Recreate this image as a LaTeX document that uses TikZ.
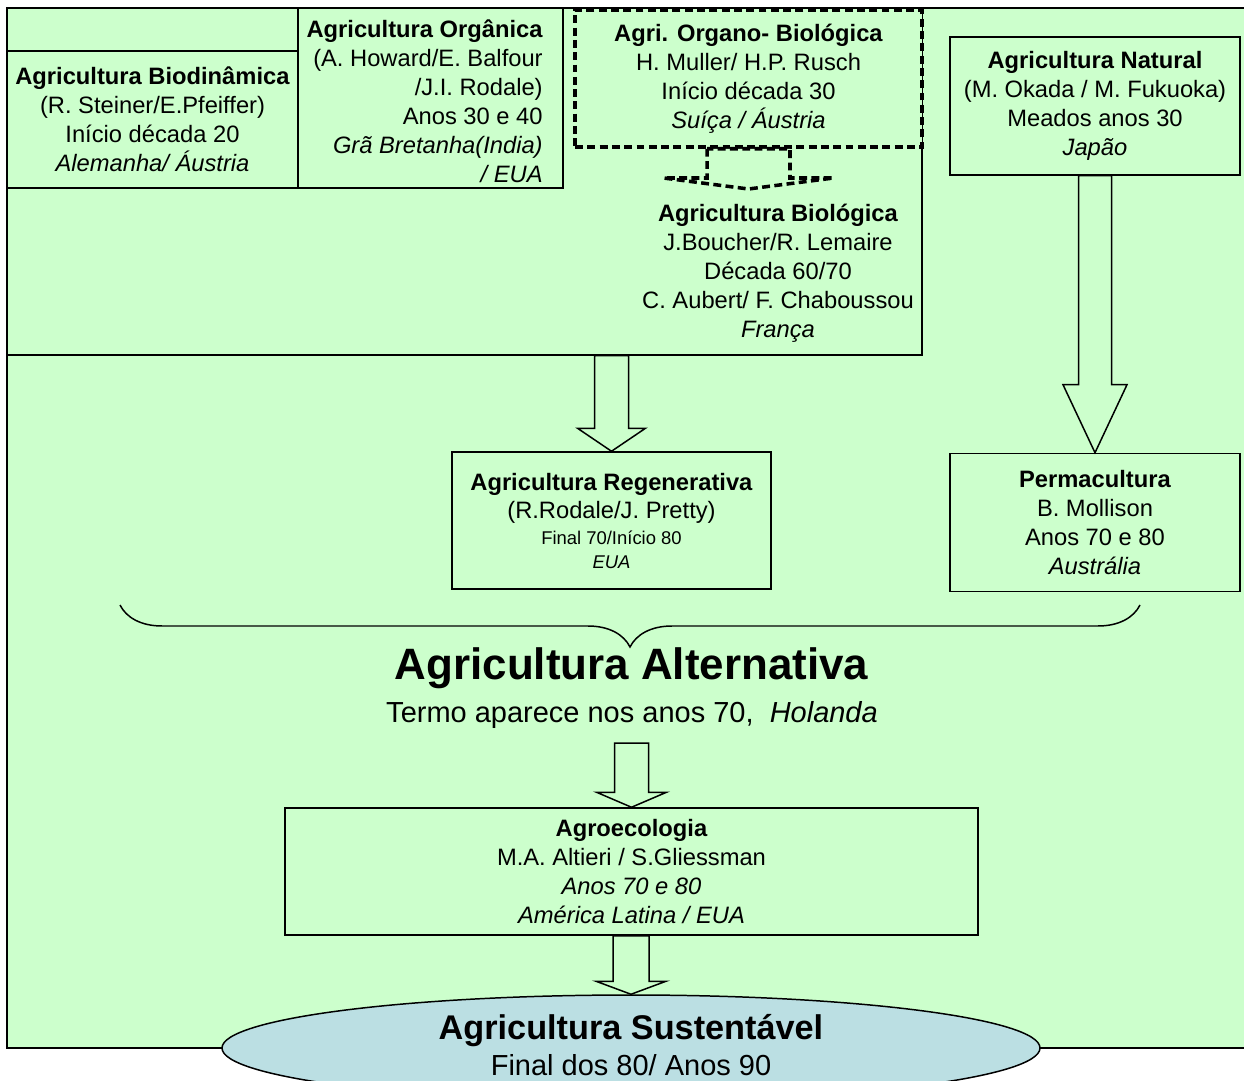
\documentclass[tikz,border=0pt]{standalone}
\usepackage{fontspec}
\setmainfont{Liberation Sans}
\usetikzlibrary{arrows.meta,positioning,shapes.geometric,calc,decorations.pathreplacing}

\definecolor{agreen}{HTML}{CCFFCC}
\definecolor{ablue}{HTML}{BBDFE3}
\newcommand{\px}{0.02cm}
\newcommand{\boxfont}{\fontsize{13.5}{16.5}\selectfont}
% hollow block arrow: [style] start, tip, shaft half width, head half width, head length
\newcommand{\blockarrow}[6][]{%
  \draw[barrow,#1] let \p1=(#2), \p2=(#3) in
    (\x2-#4,\y1) -- (\x2-#4,\y2+#6) -- (\x2-#5,\y2+#6) -- (\x2,\y2)
    -- (\x2+#5,\y2+#6) -- (\x2+#4,\y2+#6) -- (\x2+#4,\y1) -- cycle;}

\begin{document}
\begin{tikzpicture}[x=\px, y=-\px,
  box/.style={draw, fill=agreen, line width=0.85pt, inner sep=0pt, align=center, font=\boxfont},
  txt/.style={inner sep=0pt, align=center, font=\boxfont},
  dbox/.style={box, line width=2pt, dash pattern=on 4.5pt off 2.5pt},
  barrow/.style={draw, fill=agreen, line width=0.85pt, line join=miter},
  dline/.style={line width=2pt, dash pattern=on 4.5pt off 2.5pt}]
  \useasboundingbox (0,0) rectangle (1244,1081);
  \clip (0,0) rectangle (1244,1081);
  \draw[fill=agreen, line width=0.85pt] (7,8) rectangle (1252,1048);

  % upper group
  \node[box, minimum width=915*\px, minimum height=347*\px] (bio) at (464.5,181.5) {};
  \node[box, minimum width=291*\px, minimum height=137*\px] (biodin) at (152.5,119.5)
    {\textbf{Agricultura Biodinâmica}\\(R. Steiner/E.Pfeiffer)\\Início década 20\\\textit{Alemanha/ Áustria}};
  \node[box, minimum width=265*\px, minimum height=180*\px] (organica) at (430.5,98) {};
  \node[txt, align=right, anchor=east] (organica-t) at (543,101.5)
    {\textbf{Agricultura Orgânica}\\(A. Howard/E. Balfour\\/J.I. Rodale)\\Anos 30 e 40\\\textit{Grã Bretanha(India)}\\\textit{/ EUA}};
  \node[dbox, minimum width=347*\px, minimum height=137*\px] (organo) at (748.5,78.5)
    {\textbf{Agri. Organo- Biológica}\\H. Muller/ H.P. Rusch\\Início década 30\\\textit{Suíça / Áustria}};
  \node[txt] (bio-t) at (778,273.5)
    {\textbf{Agricultura Biológica}\\J.Boucher/R. Lemaire\\Década 60/70\\C. Aubert/ F. Chaboussou\\\textit{França}};
  \coordinate (organo-tip) at (748.5,189);
  \blockarrow[dline]{organo.south}{organo-tip}{0.83cm}{1.7cm}{0.22cm}

  \node[box, minimum width=290*\px, minimum height=138*\px] (natural) at (1095,106)
    {\textbf{Agricultura Natural}\\(M. Okada / M. Fukuoka)\\Meados anos 30\\\textit{Japão}};
  \node[box, minimum width=290*\px, minimum height=138*\px, below=5.54cm of natural] (perma)
    {\textbf{Permacultura}\\B. Mollison\\Anos 70 e 80\\\textit{Austrália}};
  \node[box, minimum width=319*\px, minimum height=137*\px] (regen) at (611.5,520.5)
    {\textbf{Agricultura Regenerativa}\\(R.Rodale/J. Pretty)\\[-1.7pt]{\fontsize{10.5}{12}\selectfont Final 70/Início 80}\\[-3.4pt]{\fontsize{10.5}{12}\selectfont\itshape EUA}};
  \blockarrow{regen.north |- bio.south}{regen.north}{0.34cm}{0.68cm}{0.46cm}
  \blockarrow{natural.south}{perma.north}{0.33cm}{0.64cm}{1.36cm}

  % alternativa
  \draw[line width=0.85pt, decorate, decoration={brace, mirror, amplitude=0.84cm}] (120,605) -- (1140,605);
  \node[inner sep=0pt, font=\fontsize{25}{30}\selectfont\bfseries] (alt) at (631.5,668) {Agricultura Alternativa};
  \node[inner sep=0pt, font=\fontsize{16.5}{20}\selectfont] (alt-sub) at (632,715) {Termo aparece nos anos 70, \ \textit{Holanda}};
  \coordinate (alt-out) at (630,743);

  % lower group
  \node[box, minimum width=693*\px, minimum height=127*\px] (agro) at (631.5,871.5)
    {\textbf{Agroecologia}\\M.A. Altieri / S.Gliessman\\\textit{Anos 70 e 80}\\\textit{América Latina / EUA}};
  \node[draw, ellipse, fill=ablue, line width=0.85pt, inner sep=0pt,
    minimum width=818*\px, minimum height=106*\px] (sust) at (631,1048) {};
  \node[txt, font=\fontsize{16.5}{20.5}\selectfont] (sust-t) at (631,1045)
    {{\fontsize{19.5}{20.5}\selectfont\bfseries Agricultura Sustentável}\\Final dos 80/ Anos 90};
  \blockarrow{alt-out}{agro.north}{0.34cm}{0.7cm}{0.3cm}
  \blockarrow{agro.south}{sust.north}{0.36cm}{0.7cm}{0.26cm}
\end{tikzpicture}
\end{document}
